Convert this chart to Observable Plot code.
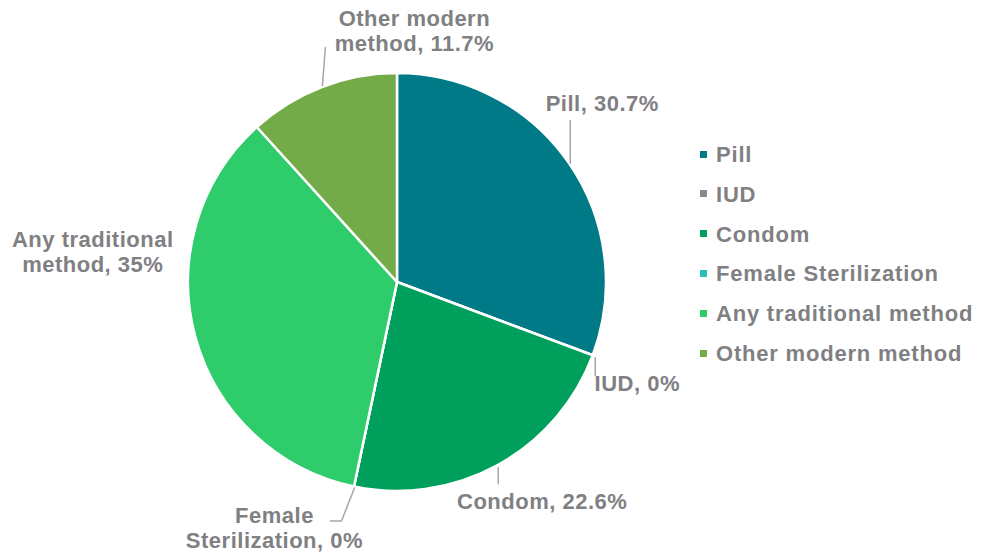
<!DOCTYPE html>
<html>
<head>
<meta charset="utf-8">
<script src="https://cdn.jsdelivr.net/npm/d3@7"></script>
<script src="https://cdn.jsdelivr.net/npm/@observablehq/plot@0.6"></script>
<style>
  body { margin: 0; background: #fff; }
  #wrap { position: relative; width: 982px; height: 553px; font-family: "Liberation Sans", Arial, sans-serif; }
  #legend { position: absolute; left: 700px; top: 0; }
  .row { position: absolute; left: 0; height: 40px; line-height: 40px; white-space: nowrap;
         font-size: 22px; font-weight: bold; color: #808083; letter-spacing: 0.8px; }
  .sw { display: inline-block; width: 7px; height: 7px; margin-right: 9px; vertical-align: middle; position: relative; top: -2px; }
</style>
</head>
<body>
<div id="wrap"><div id="legend"></div></div>
<script>
const methods = ["Pill", "IUD", "Condom", "Female Sterilization", "Any traditional method", "Other modern method"];
const shares = [30.7, 0, 22.6, 0, 35, 11.7];
const labelTexts = ["Pill, 30.7%", "IUD, 0%", "Condom, 22.6%", "Female\nSterilization, 0%", "Any traditional\nmethod, 35%", "Other modern\nmethod, 11.7%"];
const colors = ["#007A87", "#8A8A8D", "#00A05C", "#2BBFB9", "#2ECC6B", "#72AB48"];

// layout (pixels): pie centre/radius, label offsets from slice edge midpoint, leader polylines
const W = 982, H = 553, CX = 397, CY = 282, R = 209;
const labelOffsets = [[33, -60], [44, 27], [44, 35], [-80, 40], [-103, -86], [92, -57]];
const leaders = [
  [[1, 0], [1, -43]],
  [[2, 2], [2, 20]],
  [[0, 2], [0, 18]],
  [[0, 1], [-13, 34], [-24, 34]],
  [],
  [[0, -2], [3, -40]]
];

const data = methods.map((m, i) => ({ method: m, value: shares[i], label: labelTexts[i] }));
const arcs = d3.pie().sort(null).value(d => d.value)(data);

const labels = arcs.map((a, i) => {
  const mid = (a.startAngle + a.endAngle) / 2;
  const ex = Math.sin(mid), ey = -Math.cos(mid);
  return { ...a.data, ex, ey, x: ex + labelOffsets[i][0] / R, y: ey + labelOffsets[i][1] / R };
});
const leaderPts = [];
labels.forEach((l, i) => leaders[i].forEach(([ox, oy]) =>
  leaderPts.push({ id: i, x: l.ex + ox / R, y: l.ey + oy / R })));

function pieMark(index, scales) {
  const g = d3.create("svg:g");
  const x0 = scales.x(0), y0 = scales.y(0), r = scales.x(1) - scales.x(0);
  const arcGen = d3.arc().innerRadius(0).outerRadius(r);
  g.attr("transform", `translate(${x0},${y0})`);
  arcs.forEach(a => {
    g.append("path").attr("d", arcGen(a))
      .attr("fill", scales.color(a.data.method))
      .attr("stroke", "#fff").attr("stroke-width", 2.5).attr("stroke-linejoin", "round");
  });
  return g.node();
}

const plot = Plot.plot({
  width: W, height: H, margin: 0,
  x: { domain: [-CX / R, (W - CX) / R], range: [0, W], axis: null },
  y: { domain: [-CY / R, (H - CY) / R], range: [0, H], axis: null },
  color: { domain: methods, range: colors },
  style: { fontFamily: '"Liberation Sans", Arial, sans-serif', background: "transparent" },
  marks: [
    Plot.dot(data, { x: () => 0, y: () => 0, fill: "method", r: 0 }),
    pieMark,
    Plot.line(leaderPts, { x: "x", y: "y", z: "id", stroke: "#A6A6A6", strokeWidth: 1.5 }),
    Plot.text(labels, {
      x: "x", y: "y", text: "label", fill: "#808083", fontSize: 22, fontWeight: "bold",
      lineAnchor: "middle", lineHeight: 1.14, textAnchor: "middle"
    })
  ]
});
plot.querySelectorAll("text").forEach(t => t.style.letterSpacing = "0.5px");
const wrap = document.getElementById("wrap");
wrap.insertBefore(plot, wrap.firstChild);

const color = plot.scale("color");
const legend = document.getElementById("legend");
methods.forEach((m, i) => {
  const row = document.createElement("div");
  row.className = "row";
  row.style.top = (135 + i * 39.8) + "px";
  const sw = document.createElement("span");
  sw.className = "sw";
  sw.style.background = colors[color.domain.indexOf(m)];
  row.appendChild(sw);
  row.appendChild(document.createTextNode(m));
  legend.appendChild(row);
});
</script>
</body>
</html>
